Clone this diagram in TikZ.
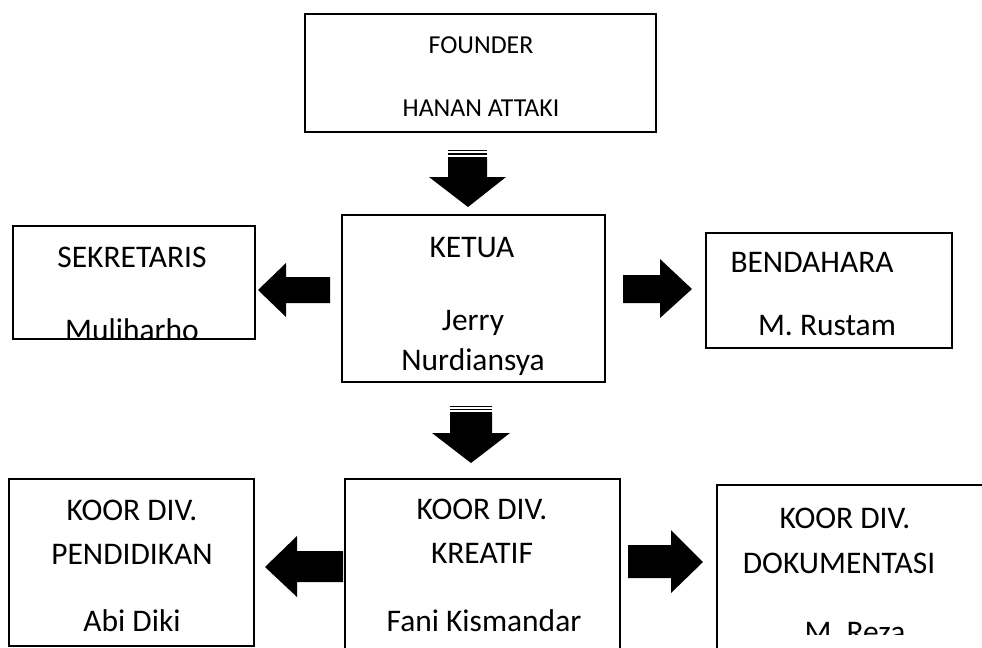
\documentclass[tikz,border=0pt]{standalone}
\usepackage{fontspec}
\setmainfont{Carlito}
\tikzset{
  box/.style={draw, line width=1.5pt, rectangle, inner sep=0pt, outer sep=0pt},
  lbl/.style={anchor=base, inner sep=0pt, font=\fontsize{23.6}{28}\selectfont},
  lblsmall/.style={anchor=base, inner sep=0pt, font=\fontsize{19.4}{23}\selectfont},
}
\begin{document}
\begin{tikzpicture}[x=0.75pt,y=-0.75pt]
\useasboundingbox (0,0) rectangle (982,647);
\clip (0,0) rectangle (982,647);
%
% boxes
	\node[box, minimum width=351*0.75pt, minimum height=118*0.75pt] (founder) at (480.5,73) {};
	\node[box, minimum width=263*0.75pt, minimum height=167*0.75pt] (ketua) at (473.5,298.5) {};
	\node[box, minimum width=242*0.75pt, minimum height=113*0.75pt] (sekretaris) at (134,282.5) {};
	\node[box, minimum width=246*0.75pt, minimum height=115*0.75pt] (bendahara) at (829,290.5) {};
	\node[box, minimum width=245*0.75pt, minimum height=167*0.75pt] (pendidikan) at (131.5,562.5) {};
	\node[box, minimum width=275*0.75pt, minimum height=173*0.75pt] (kreatif) at (482.5,565.5) {};
	\node[box, minimum width=278*0.75pt, minimum height=175*0.75pt] (dokumentasi) at (856,572.5) {};
%
% texts
	\node[lblsmall] (founderA) at (481,53) {FOUNDER};
	\node[lblsmall] (founderB) at (481,116) {HANAN ATTAKI};
	\node[lbl] (ketuaA) at (472,257) {KETUA};
	\node[lbl] (ketuaB) at (473,330) {Jerry};
	\node[lbl] (ketuaC) at (473,370) {Nurdiansya};
	\node[lbl] (sekretarisA) at (132,267) {SEKRETARIS};
	\begin{scope}
	\clip (sekretaris.north west) rectangle (sekretaris.south east);
	\node[lbl] (sekretarisB) at (132,340) {Muliharho};
	\end{scope}
	\node[lbl] (bendaharaA) at (812,272) {BENDAHARA};
	\node[lbl] (bendaharaB) at (827,335) {M. Rustam};
	\node[lbl] (pendidikanA) at (132,520) {KOOR DIV.};
	\node[lbl] (pendidikanB) at (132,564) {PENDIDIKAN};
	\node[lbl] (pendidikanC) at (132,631) {Abi Diki};
	\node[lbl] (kreatifA) at (482,519) {KOOR DIV.};
	\node[lbl] (kreatifB) at (482,563) {KREATIF};
	\node[lbl] (kreatifC) at (484,631) {Fani Kismandar};
	\node[lbl] (dokumentasiA) at (845,528) {KOOR DIV.};
	\node[lbl] (dokumentasiB) at (839,573) {DOKUMENTASI};
	\begin{scope}
	\clip (dokumentasi.north west) rectangle (982,634);
	\node[lbl] (dokumentasiC) at (855,642) {M. Reza};
	\end{scope}
%
% block arrows
	\fill (448,149.5) rectangle (487,151);
	\fill (448,153) rectangle (487,155);
	\fill (448,157) -- (487,157) -- (487,177) -- (506,177) -- (468,207) -- (429,177) -- (448,177) -- cycle;
	\fill (330,277) -- (286,277) -- (286,263) -- (258,290) -- (286,317) -- (286,303) -- (330,303) -- cycle;
	\fill (623,275) -- (660,275) -- (660,259) -- (692,289) -- (660,318) -- (660,303) -- (623,303) -- cycle;
	\fill (450,405.5) rectangle (492,407);
	\fill (450,408.5) rectangle (492,410);
	\fill (450,412) -- (492,412) -- (492,433) -- (510,433) -- (471,463) -- (432,433) -- (450,433) -- cycle;
	\fill (343,551) -- (297,551) -- (297,536) -- (265,567) -- (297,597) -- (297,582) -- (343,582) -- cycle;
	\fill (628,545) -- (671,545) -- (671,530) -- (703,562) -- (671,593) -- (671,578) -- (628,578) -- cycle;
%
\end{tikzpicture}
\end{document}
